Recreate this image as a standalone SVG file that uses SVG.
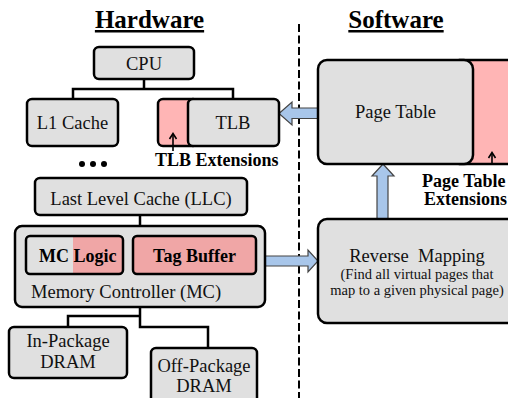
<svg xmlns="http://www.w3.org/2000/svg" width="508" height="398" viewBox="0 0 508 398" font-family="Liberation Serif, Times New Roman, DejaVu Serif, serif">
<style>
  .box { fill: #e0e0e0; stroke: #000; stroke-width: 2.5; }
  .pink { fill: #ffb5b5; stroke: #000; stroke-width: 2.5; }
  .pink2 { fill: #f0a6a6; stroke: #000; stroke-width: 2.5; }
  .t { font-size: 18.5px; fill: #111; }
  .b { font-size: 18px; font-weight: bold; fill: #000; }
  .h { font-size: 25px; font-weight: bold; fill: #000; text-decoration: underline; }
  .s { font-size: 14.5px; fill: #111; }
  .c { text-anchor: middle; }
  .wire { fill: none; stroke: #000; stroke-width: 2.5; }
  .blk { fill: #a8c6ea; stroke: #444; stroke-width: 1.2; stroke-linejoin: miter; }
  .thin { fill: none; stroke: #000; stroke-width: 1.6; }
  .head { fill: none; stroke: #000; stroke-width: 1.6; }
</style>
<rect width="508" height="398" fill="#fff"/>

<g id="titles">
  <text class="h c" x="149.5" y="28">Hardware</text>
  <text class="h c" x="396" y="28">Software</text>
  <line x1="299" y1="24" x2="299" y2="398" stroke="#000" stroke-width="2" stroke-dasharray="8,3.5"/>
</g>

<g id="connectors">
  <path class="wire" d="M144,79 V89 M73,99 V89 H233 V99"/>
  <path class="wire" d="M140,215 V226"/>
  <path class="wire" d="M140,307 V327 H208 V348 M140,316 H68 V327"/>
  <polygon class="blk" points="279,113.5 292,102 292,108 318,108 318,118.5 292,118.5 292,125"/>
  <polygon class="blk" points="256,256 308,256 308,250 318,261 308,272 308,266 256,266"/>
  <polygon class="blk" points="377,219 377,176 372,176 383,164 394,176 388,176 388,219"/>
</g>

<g id="cpu">
  <rect class="box" x="94" y="47" width="100" height="32" rx="5"/>
  <text class="t c" x="144" y="70">CPU</text>
</g>
<g id="l1">
  <rect class="box" x="27" y="99" width="91" height="47" rx="5"/>
  <text class="t c" x="72.5" y="129">L1 Cache</text>
</g>
<g id="tlb">
  <rect class="pink" x="158" y="99" width="40" height="47" rx="5"/>
  <rect class="box" x="188" y="99" width="91" height="47" rx="5"/>
  <text class="t c" x="233" y="129">TLB</text>
  <line class="thin" x1="173" y1="151" x2="173" y2="134"/>
  <path class="head" d="M169.5,139 L173,133.5 L176.5,139"/>
  <text class="b" x="155" y="166">TLB Extensions</text>
</g>
<g id="dots">
  <circle cx="82" cy="164" r="3"/>
  <circle cx="93" cy="164" r="3"/>
  <circle cx="104" cy="164" r="3"/>
</g>
<g id="llc">
  <rect class="box" x="35" y="178" width="212" height="37" rx="5"/>
  <text class="t c" x="141" y="205">Last Level Cache (LLC)</text>
</g>
<g id="mc">
  <rect class="box" x="15" y="226" width="250" height="81" rx="7"/>
  <rect x="26" y="236" width="97" height="38" rx="4" fill="#f0a6a6"/>
  <path d="M30,236 H73 V274 H30 A4,4 0 0 1 26,270 V240 A4,4 0 0 1 30,236 Z" fill="#e0e0e0"/>
  <rect x="26" y="236" width="97" height="38" rx="4" fill="none" stroke="#000" stroke-width="2.5"/>
  <text class="b" x="39" y="262">MC Logic</text>
  <rect class="pink2" x="133" y="236" width="123" height="38" rx="4"/>
  <text class="b c" x="194.5" y="262">Tag Buffer</text>
  <text class="t" x="31" y="298">Memory Controller (MC)</text>
</g>
<g id="inpkg">
  <rect class="box" x="9" y="327" width="118" height="51" rx="5"/>
  <text class="t c" x="68" y="347">In-Package</text>
  <text class="t c" x="68" y="368">DRAM</text>
</g>
<g id="offpkg">
  <rect class="box" x="151" y="348" width="106" height="62" rx="5"/>
  <text class="t c" x="204" y="372">Off-Package</text>
  <text class="t c" x="204" y="392">DRAM</text>
</g>
<g id="pagetable">
  <rect class="pink" x="460" y="60" width="60" height="104"/>
  <rect class="box" x="318" y="60" width="155" height="104" rx="9"/>
  <text class="t c" x="395.5" y="118">Page Table</text>
  <line class="thin" x1="492" y1="165" x2="492" y2="153"/>
  <path class="head" d="M488.5,158 L492,152.5 L495.5,158"/>
  <text class="b" x="422" y="187">Page Table</text>
  <text class="b" x="424" y="205">Extensions</text>
</g>
<g id="revmap">
  <rect class="box" x="318" y="219" width="210" height="104" rx="9"/>
  <text class="t c" x="417" y="262" xml:space="preserve">Reverse  Mapping</text>
  <text class="s c" x="417" y="279">(Find all virtual pages that</text>
  <text class="s c" x="417" y="295">map to a given physical page)</text>
</g>
</svg>
